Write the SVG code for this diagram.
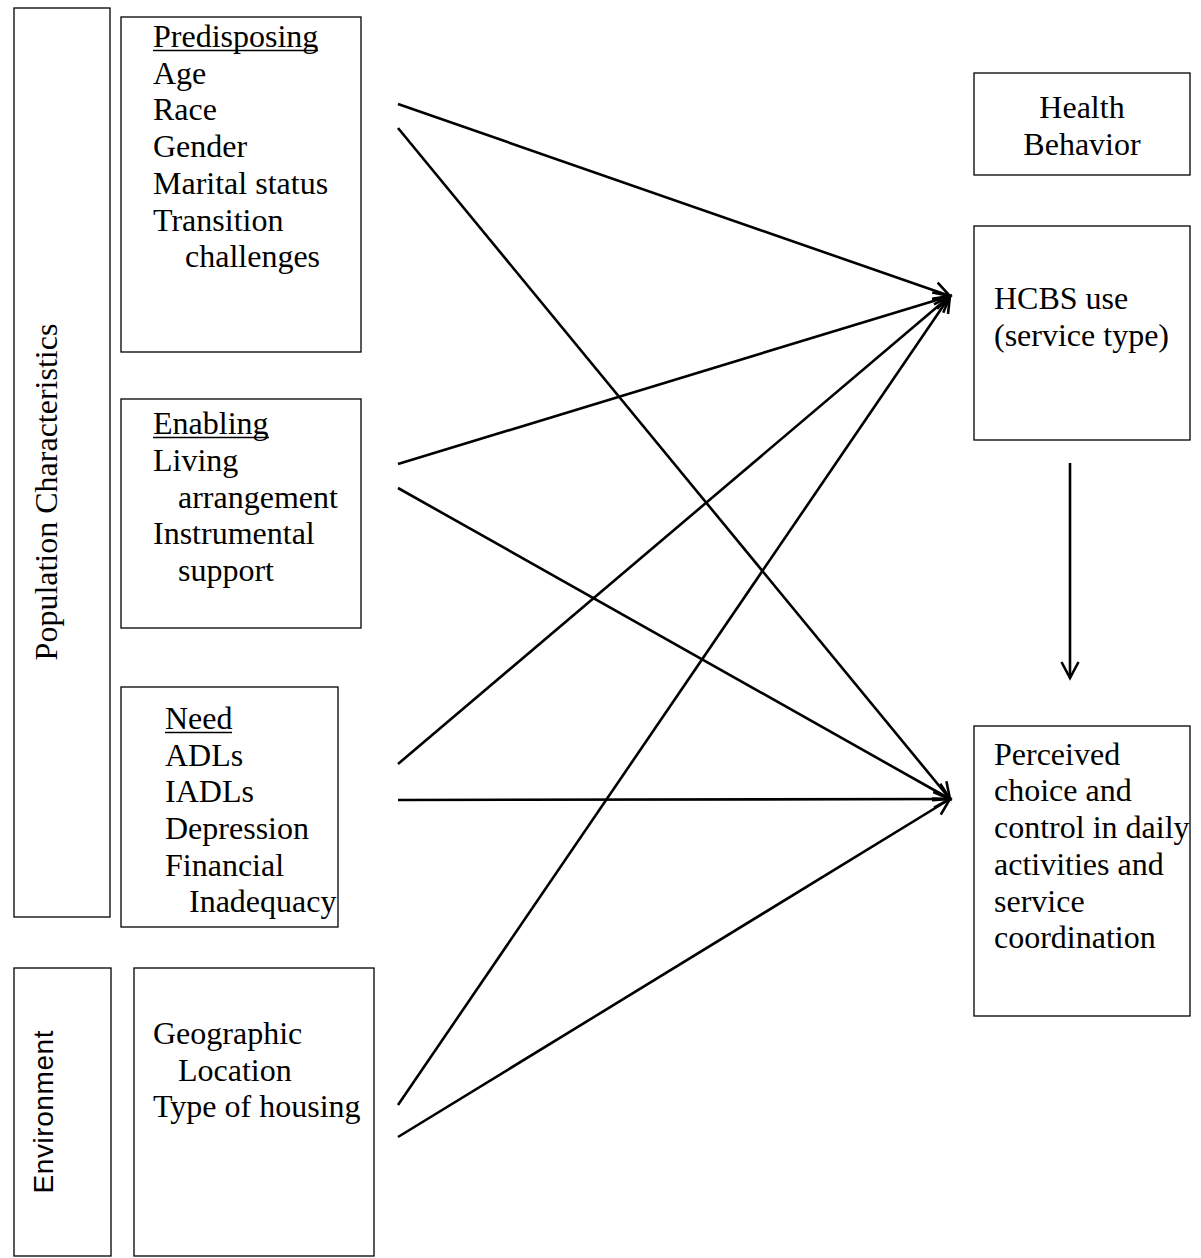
<svg xmlns="http://www.w3.org/2000/svg" width="1201" height="1258" viewBox="0 0 1201 1258">
<style>
  .box { fill: #fff; stroke: #000; stroke-width: 1.3; }
  .t { font-family: "Liberation Serif", "Times New Roman", serif; font-size: 32px; fill: #000; }
  .s { font-family: "Liberation Sans", Arial, sans-serif; font-size: 28px; fill: #000; }
  .ul { stroke: #000; stroke-width: 1.6; }
  .conn { stroke: #000; stroke-width: 2.6; fill: none; marker-end: url(#arr); }
</style>
<defs>
  <marker id="arr" markerUnits="userSpaceOnUse" markerWidth="24" markerHeight="24" viewBox="-20 -12 24 24" refX="0" refY="0" orient="auto">
    <path d="M-16,-8.5 L0,0 L-16,8.5" fill="none" stroke="#000" stroke-width="2.6"/>
  </marker>
</defs>
<rect width="1201" height="1258" fill="#fff"/>

<g id="population-characteristics">
  <rect class="box" x="14" y="8" width="96" height="909"/>
  <text class="t" text-anchor="middle" transform="translate(57,492) rotate(-90)">Population Characteristics</text>
</g>

<g id="predisposing">
  <rect class="box" x="121" y="17" width="240" height="335"/>
  <text class="t" x="153" y="47">Predisposing</text>
  <line class="ul" x1="153" y1="50.5" x2="318" y2="50.5"/>
  <text class="t" x="153" y="84">Age</text>
  <text class="t" x="153" y="120">Race</text>
  <text class="t" x="153" y="157">Gender</text>
  <text class="t" x="153" y="194">Marital status</text>
  <text class="t" x="153" y="231">Transition</text>
  <text class="t" x="185" y="267">challenges</text>
</g>

<g id="enabling">
  <rect class="box" x="121" y="399" width="240" height="229"/>
  <text class="t" x="153" y="434">Enabling</text>
  <line class="ul" x1="153" y1="437.5" x2="269" y2="437.5"/>
  <text class="t" x="153" y="471">Living</text>
  <text class="t" x="178" y="508">arrangement</text>
  <text class="t" x="153" y="544">Instrumental</text>
  <text class="t" x="178" y="581">support</text>
</g>

<g id="need">
  <rect class="box" x="121" y="687" width="217" height="240"/>
  <text class="t" x="165" y="729">Need</text>
  <line class="ul" x1="165" y1="732.5" x2="232" y2="732.5"/>
  <text class="t" x="165" y="766">ADLs</text>
  <text class="t" x="165" y="802">IADLs</text>
  <text class="t" x="165" y="839">Depression</text>
  <text class="t" x="165" y="876">Financial</text>
  <text class="t" x="189" y="912">Inadequacy</text>
</g>

<g id="environment">
  <rect class="box" x="14" y="968" width="97" height="288"/>
  <text class="s" text-anchor="middle" textLength="163" transform="translate(53,1112) rotate(-90)">Environment</text>
</g>

<g id="geographic">
  <rect class="box" x="134" y="968" width="240" height="288"/>
  <text class="t" x="153" y="1044">Geographic</text>
  <text class="t" x="178" y="1081">Location</text>
  <text class="t" x="153" y="1117">Type of housing</text>
</g>

<g id="health-behavior">
  <rect class="box" x="974" y="73" width="216" height="102"/>
  <text class="t" x="1082" y="118" text-anchor="middle">Health</text>
  <text class="t" x="1082" y="155" text-anchor="middle">Behavior</text>
</g>

<g id="hcbs-use">
  <rect class="box" x="974" y="226" width="216" height="214"/>
  <text class="t" x="994" y="309">HCBS use</text>
  <text class="t" x="994" y="346">(service type)</text>
</g>

<g id="perceived-choice">
  <rect class="box" x="974" y="726" width="216" height="290"/>
  <text class="t" x="994" y="765">Perceived</text>
  <text class="t" x="994" y="801">choice and</text>
  <text class="t" x="994" y="838">control in daily</text>
  <text class="t" x="994" y="875">activities and</text>
  <text class="t" x="994" y="912">service</text>
  <text class="t" x="994" y="948">coordination</text>
</g>

<g id="connectors">
  <line class="conn" x1="398" y1="104" x2="950" y2="296"/>
  <line class="conn" x1="398" y1="128" x2="950" y2="799"/>
  <line class="conn" x1="398" y1="464" x2="950" y2="296"/>
  <line class="conn" x1="398" y1="488" x2="950" y2="799"/>
  <line class="conn" x1="398" y1="764" x2="950" y2="296"/>
  <line class="conn" x1="398" y1="800" x2="950" y2="799"/>
  <line class="conn" x1="398" y1="1105" x2="950" y2="296"/>
  <line class="conn" x1="398" y1="1137" x2="950" y2="799"/>
  <line class="conn" x1="1070" y1="463" x2="1070" y2="678"/>
</g>
</svg>
